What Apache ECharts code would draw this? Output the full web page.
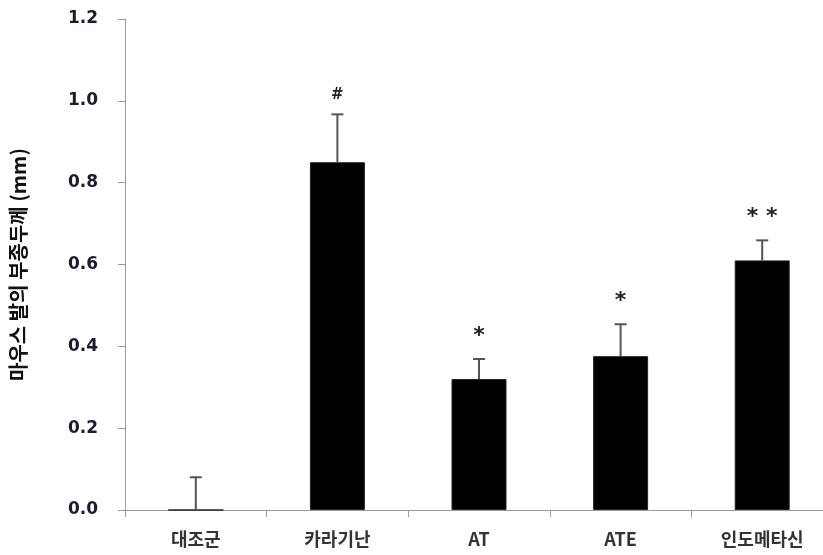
<!DOCTYPE html>
<html>
<head>
<meta charset="utf-8">
<script src="https://cdn.jsdelivr.net/npm/echarts@6/dist/echarts.min.js"></script>
<style>
html,body{margin:0;padding:0;background:#fff;}
#chart{width:823px;height:555px;}
</style>
</head>
<body>
<div id="chart"></div>
<script>
// Paw edema thickness per treatment group
const groups = ['대조군', '카라기난', 'AT', 'ATE', '인도메타신'];
const thickness = [0.0, 0.85, 0.32, 0.376, 0.61];
const stdError = [0.08, 0.117, 0.049, 0.078, 0.049];
const marks = ['', '#', '*', '*', '**'];
const yTicks = [0, 0.2, 0.4, 0.6, 0.8, 1.0, 1.2];

const chart = echarts.init(document.getElementById('chart'));

const errData = groups.map((g, i) => [i, thickness[i], thickness[i] + stdError[i], marks[i]]);

chart.setOption({
  animation: false,
  grid: { left: 125, top: 19, bottom: 45, width: 708, outerBoundsMode: 'none', containLabel: false },
  xAxis: {
    type: 'category',
    data: groups,
    axisLine: { lineStyle: { color: '#9a9a9a', width: 1 } },
    axisTick: { show: true, length: 7, lineStyle: { color: '#9a9a9a' } },
    axisLabel: { fontSize: 18, color: '#333', margin: 20, fontWeight: 'bold', fontFamily: 'Noto Sans CJK KR' }
  },
  yAxis: {
    type: 'value',
    min: yTicks[0],
    max: yTicks[yTicks.length - 1],
    interval: 0.2,
    name: '마우스 발의 부종두께 (mm)',
    nameLocation: 'middle',
    nameGap: 97,
    nameTextStyle: { fontSize: 20, fontWeight: 'bold', color: '#111', fontFamily: 'Noto Sans CJK KR' },
    axisLine: { show: true, lineStyle: { color: '#9a9a9a', width: 1 } },
    axisTick: { show: true, length: 7, lineStyle: { color: '#9a9a9a' } },
    splitLine: { show: false },
    axisLabel: {
      fontSize: 17, color: '#1c1c30', margin: 27, fontWeight: 'bold',
      fontFamily: 'DejaVu Sans',
      formatter: v => v.toFixed(1)
    }
  },
  series: [
    {
      type: 'bar',
      data: thickness,
      barWidth: 55,
      itemStyle: { color: '#000', borderColor: '#222', borderWidth: 1 },
      z: 2
    },
    {
      type: 'custom',
      data: errData,
      z: 3,
      renderItem: function (params, api) {
        const x = api.coord([api.value(0), 0])[0];
        const yLow = api.coord([api.value(0), api.value(1)])[1];
        const yHigh = api.coord([api.value(0), api.value(2)])[1];
        const cap = 6;
        const style = { stroke: '#555', lineWidth: 2 };
        const children = [
          { type: 'line', shape: { x1: x, y1: yLow, x2: x, y2: yHigh }, style },
          { type: 'line', shape: { x1: x - cap, y1: yHigh, x2: x + cap, y2: yHigh }, style }
        ];
        const mark = marks[params.dataIndex];
        if (mark) {
          children.push({
            type: 'text',
            style: {
              text: mark.split('').join(' '),
              x: x, y: yHigh - 12,
              align: 'center', verticalAlign: 'bottom',
              fontSize: mark === '#' ? 15 : 22,
              fontWeight: 'bold',
              fill: '#222',
              fontFamily: 'DejaVu Sans'
            }
          });
        }
        return { type: 'group', children };
      }
    }
  ]
});
</script>
</body>
</html>
